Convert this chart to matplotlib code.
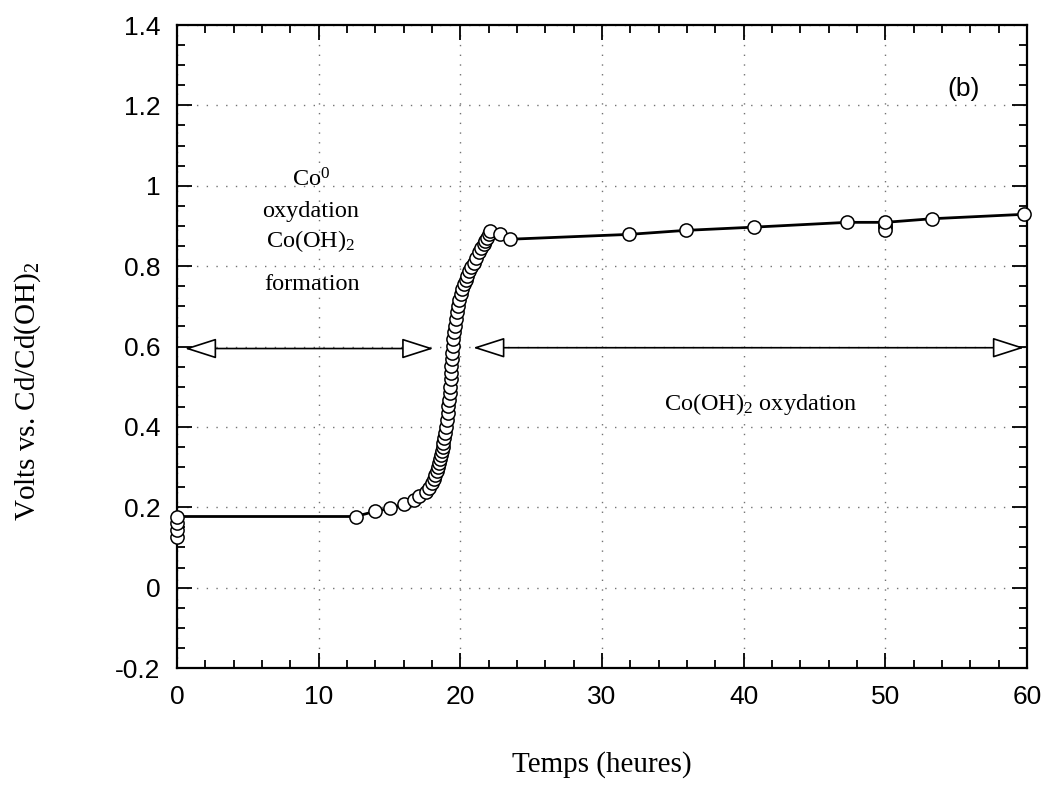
import matplotlib
matplotlib.use('Agg')
import matplotlib.pyplot as plt
from matplotlib.ticker import MultipleLocator, FixedLocator

# temps (heures) / potentiel (V vs Cd/Cd(OH)2)
temps = [0.0, 0.0, 0.0, 0.0,
         12.6, 14.0, 15.0, 16.0, 16.7, 17.1, 17.6, 17.8, 18.0,
         18.12, 18.22, 18.32, 18.42, 18.5, 18.57, 18.63, 18.69, 18.75, 18.8,
         18.86, 18.93, 18.99, 19.05, 19.1, 19.16, 19.2, 19.25, 19.28, 19.31,
         19.34, 19.37, 19.4, 19.43, 19.46, 19.5, 19.55, 19.6, 19.67, 19.75,
         19.83, 19.93, 20.03, 20.11, 20.25, 20.38, 20.47, 20.62, 20.78, 20.94,
         21.1, 21.29, 21.45, 21.64, 21.76, 21.88, 22.0, 22.12,
         22.82, 23.53, 31.9, 35.9, 40.7, 47.3, 50.0, 53.3, 59.8]
volts = [0.127, 0.144, 0.162, 0.177,
         0.177, 0.19, 0.197, 0.207, 0.217, 0.227, 0.237, 0.249, 0.26,
         0.27, 0.28, 0.29, 0.30, 0.31, 0.32, 0.33, 0.34, 0.35, 0.36,
         0.372, 0.385, 0.40, 0.418, 0.435, 0.452, 0.468, 0.485, 0.50, 0.518,
         0.535, 0.552, 0.57, 0.585, 0.601, 0.618, 0.635, 0.651, 0.668, 0.685,
         0.70, 0.715, 0.73, 0.742, 0.755, 0.765, 0.775, 0.787, 0.798, 0.809,
         0.82, 0.834, 0.845, 0.854, 0.862, 0.871, 0.879, 0.887,
         0.879, 0.867, 0.879, 0.889, 0.897, 0.909, 0.909, 0.918, 0.929]

# mesures repetees a 50 h
rep_temps = [50.0, 50.0, 50.0]
rep_volts = [0.903, 0.897, 0.89]

x_ticks = [0, 10, 20, 30, 40, 50, 60]
y_ticks = [-0.2, 0, 0.2, 0.4, 0.6, 0.8, 1, 1.2, 1.4]
y_labels = ['-0.2', '0', '0.2', '0.4', '0.6', '0.8', '1', '1.2', '1.4']

plt.rcParams['mathtext.fontset'] = 'custom'
plt.rcParams['mathtext.rm'] = 'Liberation Serif'
plt.rcParams['mathtext.it'] = 'Liberation Serif:italic'

SERIF = 'Liberation Serif'
SANS = 'Liberation Sans'

fig = plt.figure(figsize=(10.57, 7.87), dpi=100)
ax = fig.add_axes([0.1675, 0.1512, 0.8041, 0.8170])

mk = dict(marker='o', ms=9.5, mfc='white', mec='black', mew=1.1, clip_on=False)
ax.plot(rep_temps, rep_volts, ls='none', zorder=3, **mk)
ax.plot(temps, volts, color='black', lw=2.0, zorder=4, **mk)

ax.set_xlim(0, 60)
ax.set_ylim(-0.2, 1.4)
ax.xaxis.set_major_locator(FixedLocator(x_ticks))
ax.yaxis.set_major_locator(FixedLocator(y_ticks))
ax.xaxis.set_minor_locator(MultipleLocator(2))
ax.yaxis.set_minor_locator(MultipleLocator(0.05))
ax.set_yticklabels(y_labels)

ax.tick_params(which='both', direction='in', top=True, right=True, width=1.3)
ax.tick_params(which='major', length=11, labelsize=19, pad=12)
ax.tick_params(which='minor', length=6)
for lab in ax.get_xticklabels() + ax.get_yticklabels():
    lab.set_fontfamily(SANS)
for sp in ax.spines.values():
    sp.set_linewidth(1.6)

ax.grid(True, which='major', linestyle=(0, (1, 6)), color='0.45', lw=1.0)

ax.set_xlabel('Temps (heures)', fontsize=21, family=SERIF)
ax.xaxis.set_label_coords(0.5, -0.129)
ax.set_ylabel('Volts vs. Cd/Cd(OH)$_\\mathregular{2}$', fontsize=21, family=SERIF)
ax.yaxis.set_label_coords(-0.158, 0.43)

# fleches doubles a tete creuse
arrow = dict(arrowstyle='<|-|>,head_length=1.0,head_width=0.32', fc='white',
             ec='black', lw=1.2, shrinkA=0, shrinkB=0, mutation_scale=20)
ax.annotate('', xy=(18.1, 0.595), xytext=(0.55, 0.595), arrowprops=arrow)
ax.annotate('', xy=(59.8, 0.597), xytext=(20.9, 0.597), arrowprops=arrow)

txt = dict(fontsize=17.5, family=SERIF, ha='center', va='baseline')
ax.text(9.45, 0.998, 'Co$^\\mathregular{0}$', **txt)
ax.text(9.45, 0.922, 'oxydation', **txt)
ax.text(9.45, 0.848, 'Co(OH)$_\\mathregular{2}$', **txt)
ax.text(9.5, 0.741, 'formation', **txt)
ax.text(41.2, 0.442, 'Co(OH)$_\\mathregular{2}$ oxydation', **txt)
ax.text(55.5, 1.24, '(b)', fontsize=19, family=SANS, ha='center', va='center')

fig.savefig('out.png', dpi=100)
